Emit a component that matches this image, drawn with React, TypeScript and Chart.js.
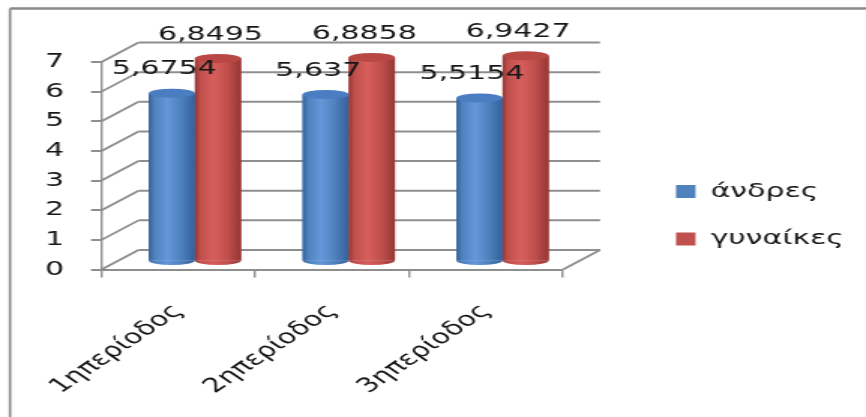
import { useEffect, useRef } from 'react';
import { Chart, registerables } from 'chart.js';

Chart.register(...registerables);

// ---- data ----
const categories = ['1ηπερίοδος', '2ηπερίοδος', '3ηπερίοδος'];
const seriesNames = ['άνδρες', 'γυναίκες'];
const menValues = [5.6754, 5.637, 5.5154];
const womenValues = [6.8495, 6.8858, 6.9427];
const yMin = 0;
const yMax = 7;
const yStep = 1;

// ---- look ----
const IW = 577; // internal canvas width, stretched to 866 css px
const IH = 417;
const SX = 866 / IW;
const FONT = 'DejaVu Sans';
const GRID = '#8e8e8e';
const TEXT = '#161616';
const WALL_DX = 37 / SX;
const WALL_DY = -19.5;
const BAR_DX = 16.5 / SX;
const BAR_DY = -8;
const PLOT_LEFT = 101.5 / SX;
const PLOT_RIGHT = 563 / SX;
const PAD_TOP = 62;
const PLOT_H = 207.5;
const PAD_LEFT = -400;
const LEGEND_LEFT = 676 / SX - 27.5;
const LEG_PAD = 27.5;

const seriesStyle = [
  { flat: '#4f81bd', edge: '#33609b', light: '#6598da', top: '#4a7dc1' },
  { flat: '#c0504d', edge: '#953634', light: '#d75f5b', top: '#b94845' },
];

const fmt = (v: number) => String(v).replace('.', ',');

const frame3d = {
  id: 'frame3d',
  beforeDraw(chart: any) {
    const { ctx } = chart;
    ctx.save();
    ctx.strokeStyle = '#8a8a8a';
    ctx.lineWidth = 2.5;
    ctx.beginPath();
    ctx.moveTo(10 / SX, 8.5);
    ctx.lineTo(IW + 5, 8.5);
    ctx.stroke();
    ctx.lineWidth = 2.5 / SX;
    ctx.beginPath();
    ctx.moveTo(10 / SX, 8.5);
    ctx.lineTo(10 / SX, IH + 5);
    ctx.stroke();
    ctx.restore();
  },
  beforeDatasetsDraw(chart: any) {
    const { ctx, chartArea, scales } = chart;
    const y = scales.y;
    const { left, right, bottom } = chartArea;
    ctx.save();
    ctx.strokeStyle = GRID;
    y.ticks.forEach((t: any) => {
      const yp = y.getPixelForValue(t.value);
      ctx.lineWidth = 1.8;
      ctx.beginPath();
      ctx.moveTo(left, yp);
      ctx.lineTo(left + WALL_DX, yp + WALL_DY);
      ctx.stroke();
      ctx.lineWidth = 2;
      ctx.beginPath();
      ctx.moveTo(left + WALL_DX, yp + WALL_DY);
      ctx.lineTo(right + WALL_DX, yp + WALL_DY);
      ctx.stroke();
    });
    ctx.lineWidth = 1.8;
    ctx.beginPath();
    ctx.moveTo(right, bottom);
    ctx.lineTo(right + WALL_DX, bottom + WALL_DY);
    ctx.stroke();
    ctx.restore();
    ctx.save();
    ctx.translate(BAR_DX, BAR_DY);
  },
  afterDatasetsDraw(chart: any) {
    const { ctx } = chart;
    chart.data.datasets.forEach((ds: any, di: number) => {
      const meta = chart.getDatasetMeta(di);
      const st = seriesStyle[di];
      meta.data.forEach((bar: any) => {
        const { x, y, base, width } = bar.getProps(['x', 'y', 'base', 'width'], true);
        const l = x - width / 2;
        const r = x + width / 2;
        const ry = 4.5;
        const g = ctx.createLinearGradient(l, 0, r, 0);
        g.addColorStop(0, st.edge);
        g.addColorStop(0.12, st.flat);
        g.addColorStop(0.4, st.light);
        g.addColorStop(0.7, st.flat);
        g.addColorStop(1, st.edge);
        ctx.fillStyle = g;
        ctx.beginPath();
        ctx.rect(l, y, width, base - y);
        ctx.fill();
        ctx.beginPath();
        ctx.ellipse(x, base, width / 2, ry, 0, 0, Math.PI);
        ctx.fill();
        ctx.fillStyle = st.top;
        ctx.beginPath();
        ctx.ellipse(x, y, width / 2, ry, 0, 0, Math.PI * 2);
        ctx.fill();
      });
    });
    // value labels
    ctx.fillStyle = TEXT;
    ctx.font = `20px "${FONT}"`;
    ctx.textAlign = 'center';
    ctx.textBaseline = 'middle';
    chart.data.datasets.forEach((ds: any, di: number) => {
      const meta = chart.getDatasetMeta(di);
      meta.data.forEach((bar: any, i: number) => {
        const { x, y } = bar.getProps(['x', 'y'], true);
        ctx.fillText(fmt(ds.data[i]), x - 7.5 / SX, y - 24);
      });
    });
    ctx.restore();
  },
};

export default function App() {
  const ref = useRef<HTMLCanvasElement>(null);
  useEffect(() => {
    document.body.style.margin = '0';
    const canvas = ref.current!;
    const font = { family: FONT, size: 20 };
    // natural legend width (Chart.js: padding + box + font/2 + text + 10)
    const mctx = document.createElement('canvas').getContext('2d')!;
    mctx.font = `20px "${FONT}"`;
    const textW = Math.max(...seriesNames.map((s) => mctx.measureText(s).width));
    const legendW = LEG_PAD + 13 + 10 + textW + 10;
    const padRight = Math.max(0, IW - LEGEND_LEFT - legendW);
    const chart = new Chart(canvas, {
      type: 'bar',
      data: {
        labels: categories,
        datasets: [
          { label: seriesNames[0], data: menValues, backgroundColor: seriesStyle[0].flat, borderWidth: 0, clip: false as any },
          { label: seriesNames[1], data: womenValues, backgroundColor: seriesStyle[1].flat, borderWidth: 0, clip: false as any },
        ],
      },
      options: {
        responsive: false,
        animation: false,
        devicePixelRatio: 1,
        categoryPercentage: 0.6,
        barPercentage: 1,
        layout: { padding: { top: PAD_TOP, bottom: 0, left: PAD_LEFT, right: padRight } },
        plugins: {
          legend: {
            position: 'right',
            align: 'start',
            title: { display: true, text: ' ', padding: { top: 68, bottom: 0 }, font },
            labels: { boxWidth: 13, boxHeight: 13, padding: LEG_PAD, font, color: TEXT },
          },
          tooltip: { enabled: false },
          title: { display: false },
        },
        scales: {
          x: {
            type: 'category',
            offset: true,
            grid: { offset: true, drawOnChartArea: false, drawTicks: true, tickLength: 8, color: GRID, lineWidth: 1.4 },
            border: { display: true, color: GRID, width: 2 },
            ticks: { minRotation: 45, maxRotation: 45, autoSkip: false, padding: 22, font, color: TEXT },
            afterFit: (s: any) => { s.height = IH - PAD_TOP - PLOT_H; },
          },
          y: {
            min: yMin,
            max: yMax,
            ticks: { stepSize: yStep, padding: 18, font, color: TEXT },
            grid: { drawOnChartArea: false, drawTicks: true, tickLength: 7, color: GRID, lineWidth: 2 },
            border: { display: true, color: GRID, width: 1.4 },
            afterFit: (s: any) => { s.width = PLOT_LEFT - PAD_LEFT; },
          },
          gap: {
            type: 'linear',
            position: 'right',
            display: true,
            grid: { display: false },
            border: { display: false },
            ticks: { display: false },
            afterFit: (s: any) => {
              const lg = s.chart.legend;
              const lw = lg && lg.width ? lg.width : legendW;
              s.width = Math.max(0, IW - padRight - lw - PLOT_RIGHT);
            },
          },
        },
      } as any,
      plugins: [frame3d],
    });
    return () => chart.destroy();
  }, []);
  return (
    <canvas
      ref={ref}
      width={IW}
      height={IH}
      style={{ width: '866px', height: '417px', display: 'block' }}
    />
  );
}
